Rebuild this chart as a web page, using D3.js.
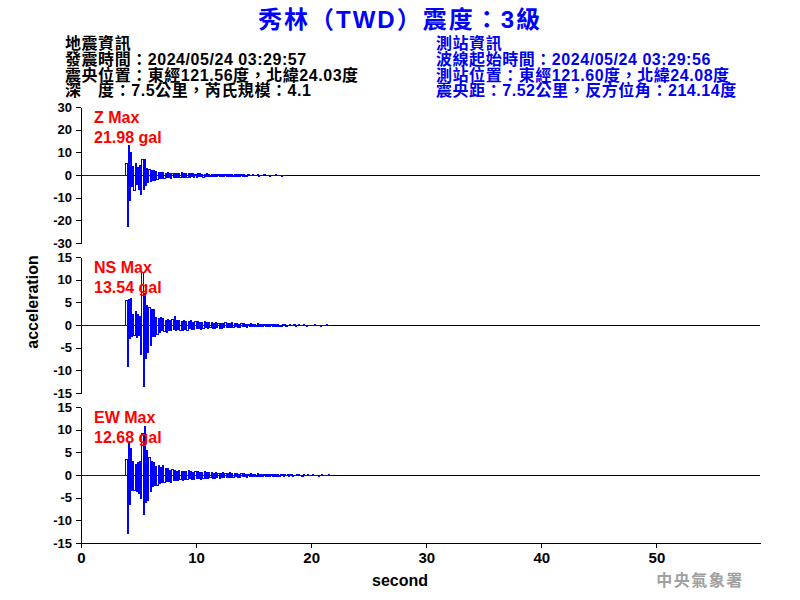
<!DOCTYPE html>
<html><head><meta charset="utf-8">
<script src="https://cdn.jsdelivr.net/npm/d3@7"></script>
<style>body{margin:0;background:#fff} svg{display:block}</style>
</head><body><svg id="c" width="800" height="600"></svg>
<script>
// ---------- data ----------
const titleText = "秀林（TWD）震度：3級";
const quakeInfo = ["地震資訊", "發震時間：2024/05/24 03:29:57", "震央位置：東經121.56度，北緯24.03度", "深　度：7.5公里，芮氏規模：4.1"];
const stationInfo = ["測站資訊", "波線起始時間：2024/05/24 03:29:56", "測站位置：東經121.60度，北緯24.08度", "震央距：7.52公里，反方位角：214.14度"];
const components = ["Z", "NS", "EW"];
const maxValues = ["21.98", "13.54", "12.68"];
const yLimits = [30, 15, 15];
const yTickStep = [10, 5, 5];
const xTicks = [0, 10, 20, 30, 40, 50];
const xDomain = [0, 59];
const onsetTimes = [3.9, 3.9, 3.9];
const sampleStep = 0.1;
const xLabel = "second";
const yLabel = "acceleration";
const agency = "中央氣象署";

const zValues = [5.2,-22.4,13.2,-11,10,-5,4,-6.6,5.2,-4,3.5,-6,4.5,-8.4,6.9,-6,7,-4.5,3,-3,2.5,-2.5,2.2,-2,2,-2,1.8,-1.6,1.5,-1.5,1.5,-1.3,1.2,-1.2,
 1.1,-1.0,1.3,-0.9,1.0,-1.2,0.9,-0.8,
 1.0,-0.8,0.9,-1.1,0.8,-0.7,1.2,-0.9,0.8,-0.7,
 0.9,-0.8,0.7,-0.9,0.8,-0.6,0.7,-1.0,0.6,-0.7,
 0.8,-0.6,0.7,-0.6,0.5,-0.7,0.6,-0.5,0.7,-0.6,
 0.5,-0.6,0.6,-0.5,0.4,-0.6,0.5,-0.4,0.6,-0.5,
 0.4,-0.5,0.5,-0.4,0.6,-0.4,0.4,-0.5,0.4,-0.3,
 0.5,-0.4,0.3,-0.4,0.4,-0.3,0.5,-0.3,0.3,-0.4,
 0.3,-0.3,0.2,-0.4,0.3,-0.2,0.1,-0.2,0.3,-0.2,
 0.1,-0.1,0.5,-0.3,0.1,-0.1,0.2,-0.1,0.4,-0.2,
 0.1,-0.1,0.1,-0.3,0.2,-0.1,0.1,-0.1,0.3,-0.1,
 0.1,-0.1,0.2,-0.3,0.1,-0.1,0.1,0];

const nsValues = [5.5,-9,5.8,-2.8,6,-2.5,2.5,-2.2,3,-2.6,2.5,-2.2,2,-6.5,11.8,-13.5,7,-7.3,4.5,-6,4,-4.5,3.5,-2.5,3.5,-2.5,1.8,-2,1.5,-1.6,1.8,-1.2,1.5,-1.4,1.2,-1.5,1.3,-1.1,1.2,-1.0,1.4,
 -0.9,2.0,-1.2,1.0,-0.9,1.1,-1.0,0.8,-1.2,1.0,-0.8,
 0.9,-1.0,0.8,-0.7,1.1,-0.8,0.7,-0.9,0.8,-0.6,
 0.9,-0.7,0.6,-0.8,0.7,-0.6,0.8,-0.5,0.6,-0.7,
 0.6,-0.5,0.7,-0.6,0.5,-0.7,0.6,-0.5,0.5,-0.6,
 0.5,-0.6,0.4,-0.5,0.6,-0.4,0.5,-0.5,0.4,-0.5,
 0.6,-0.4,0.5,-0.3,0.4,-0.5,0.3,-0.4,0.5,-0.3,
 0.4,-0.3,0.3,-0.4,0.3,-0.3,0.4,-0.2,0.3,-0.3,
 0.3,-0.2,0.4,-0.3,0.2,-0.3,0.3,-0.2,0.3,-0.2,
 0.2,-0.3,0.3,-0.2,0.2,-0.2,0.3,-0.3,0.2,-0.2,
 0.3,-0.2,0.1,-0.2,0.2,-0.1,0.3,-0.2,0.1,-0.1,
 0.2,-0.1,0.1,-0.1,0.3,-0.2,0.1,-0.1,0.2,-0.1,
 0.1,-0.1,0.2,-0.1,0.1,-0.3,0.1,-0.1,0.1,-0.1,
 0.1,-0.1,0.3,-0.1,0.1,-0.1,0.1,-0.2,0.1,-0.1,
 0.1,-0.1,0.3,-0.1,0.1,0];

const ewValues = [3.5,-12.7,7.4,-6.5,5.9,-3.3,3,-3.2,2.5,-3.5,2.8,-4,3,-5,9.2,-8.7,10.8,-6,5.5,-5.5,4,-3.5,3,-2.5,2.8,-2.3,2,-2.2,2.2,-1.8,1.8,-1.5,2.2,-1.6,1.5,-1.4,1.6,-1.3,1.2,-1.5,1.3,-1.1,
 1.0,-1.2,0.9,-1.0,1.1,-0.8,0.9,-1.0,0.8,-0.9,
 0.9,-0.8,1.0,-0.7,0.8,-0.9,0.7,-0.8,0.9,-0.7,
 0.8,-0.6,0.7,-0.9,0.6,-0.7,0.8,-0.6,0.7,-0.6,
 0.6,-0.5,0.7,-0.6,0.5,-0.6,0.6,-0.5,0.5,-0.6,
 0.5,-0.4,0.6,-0.5,0.4,-0.5,0.5,-0.4,0.6,-0.4,
 0.4,-0.5,0.4,-0.3,0.5,-0.4,0.3,-0.4,0.4,-0.3,
 0.5,-0.3,0.3,-0.4,0.3,-0.3,0.4,-0.3,0.3,-0.2,
 0.3,-0.3,0.4,-0.2,0.3,-0.3,0.2,-0.3,0.3,-0.2,
 0.3,-0.2,0.2,-0.3,0.3,-0.2,0.2,-0.2,0.3,-0.2,
 0.2,-0.2,0.3,-0.1,0.2,-0.2,0.2,-0.1,0.3,-0.2,
 0.2,-0.1,0.2,-0.2,0.1,-0.1,0.3,-0.1,0.2,-0.1,
 0.1,-0.2,0.2,-0.1,0.1,-0.1,0.3,-0.1,0.1,-0.1,
 0.2,-0.1,0.1,-0.1,0.1,-0.2,0.1,-0.1,0.2,-0.1,
 0.1,-0.1,0.1,-0.1,0.2,-0.1,0];

const seriesValues = [zValues, nsValues, ewValues];

// ---------- drawing ----------
const FONT = "'Liberation Sans', Arial, 'Noto Sans CJK TC', sans-serif";
const svg = d3.select("#c");
svg.append("rect").attr("width", 800).attr("height", 600).attr("fill", "#fff");

const left = 81, right = 760;
const panelTops = [107, 257, 407], panelH = 136;
const x = d3.scaleLinear().domain(xDomain).range([left, right]);

svg.append("text").attr("x", 400).attr("y", 28).attr("text-anchor", "middle")
  .attr("font-family", FONT).attr("font-weight", "bold").attr("font-size", 24)
  .attr("letter-spacing", 2)
  .attr("fill", "#0000ff").text(titleText);

const lineY = [48.5, 64.5, 80.5, 96];
svg.selectAll("text.qi").data(quakeInfo).join("text").attr("class", "qi")
  .attr("x", 65).attr("y", (d, i) => lineY[i])
  .attr("font-family", FONT).attr("font-weight", "bold").attr("font-size", 16)
  .attr("letter-spacing", 0.55)
  .attr("fill", "#000").text(d => d);
svg.selectAll("text.si").data(stationInfo).join("text").attr("class", "si")
  .attr("x", 436).attr("y", (d, i) => lineY[i])
  .attr("font-family", FONT).attr("font-weight", "bold").attr("font-size", 16)
  .attr("letter-spacing", 0.55)
  .attr("fill", "#0000ee").text(d => d);

components.forEach((comp, k) => {
  const top = panelTops[k];
  const lim = yLimits[k];
  const y = d3.scaleLinear().domain([-lim, lim]).range([top + panelH, top]);
  const g = svg.append("g");

  // zero line
  g.append("line").attr("x1", x(xDomain[0])).attr("x2", x(xDomain[1]))
    .attr("y1", y(0) + 0.5).attr("y2", y(0) + 0.5).attr("stroke", "#000").attr("stroke-width", 1)
    .attr("shape-rendering", "crispEdges");

  // waveform
  const vals = seriesValues[k];
  const pts = [{t: 0, v: 0}, {t: onsetTimes[k] - sampleStep, v: 0}]
    .concat(vals.map((v, i) => ({t: onsetTimes[k] + i * sampleStep, v})));
  g.append("path").datum(pts)
    .attr("d", d3.line().x(d => x(d.t)).y(d => y(d.v) + 0.5).curve(d3.curveStepAfter))
    .attr("fill", "none").attr("stroke", "#0000ff").attr("stroke-width", 1)
    .attr("shape-rendering", "crispEdges");

  // y axis
  const ticks = d3.range(-lim, lim + 0.001, yTickStep[k]);
  const ax = g.append("g").attr("transform", `translate(${left},0)`)
    .call(d3.axisLeft(y).tickValues(ticks).tickSize(5).tickSizeOuter(0).tickPadding(4)
      .tickFormat(d => String(d)));
  ax.selectAll("text").attr("font-family", FONT).attr("font-weight", "bold")
    .attr("font-size", 13).attr("fill", "#000");
  ax.selectAll("path,line").attr("stroke", "#000").attr("shape-rendering", "crispEdges");

  // max label
  g.append("text").attr("x", 94).attr("y", top + 16)
    .attr("font-family", FONT).attr("font-weight", "bold").attr("font-size", 16)
    .attr("fill", "#ff0000").text(comp + " Max");
  g.append("text").attr("x", 94).attr("y", top + 36)
    .attr("font-family", FONT).attr("font-weight", "bold").attr("font-size", 16)
    .attr("fill", "#ff0000").text(maxValues[k] + " gal");

  if (k === components.length - 1) {
    const xa = svg.append("g").attr("transform", `translate(0,${top + panelH})`)
      .call(d3.axisBottom(x).tickValues(xTicks).tickSize(5).tickSizeOuter(0).tickPadding(4)
        .tickFormat(d => String(d)));
    xa.selectAll("text").attr("font-family", FONT).attr("font-weight", "bold")
      .attr("font-size", 15).attr("fill", "#000");
    xa.selectAll("path,line").attr("stroke", "#000").attr("shape-rendering", "crispEdges");
  }
});

svg.append("text").attr("x", 400).attr("y", 586).attr("text-anchor", "middle")
  .attr("font-family", FONT).attr("font-weight", "bold").attr("font-size", 16)
  .attr("fill", "#000").text(xLabel);
svg.append("text").attr("transform", "translate(38,302) rotate(-90)").attr("text-anchor", "middle")
  .attr("font-family", FONT).attr("font-weight", "bold").attr("font-size", 16)
  .attr("fill", "#000").text(yLabel);
svg.append("text").attr("x", 700).attr("y", 586).attr("text-anchor", "middle")
  .attr("font-family", "'Noto Sans CJK TC', sans-serif").attr("font-weight", "bold").attr("font-size", 16)
  .attr("letter-spacing", 1.5)
  .attr("fill", "#a0a0a0").text(agency);
</script></body></html>
